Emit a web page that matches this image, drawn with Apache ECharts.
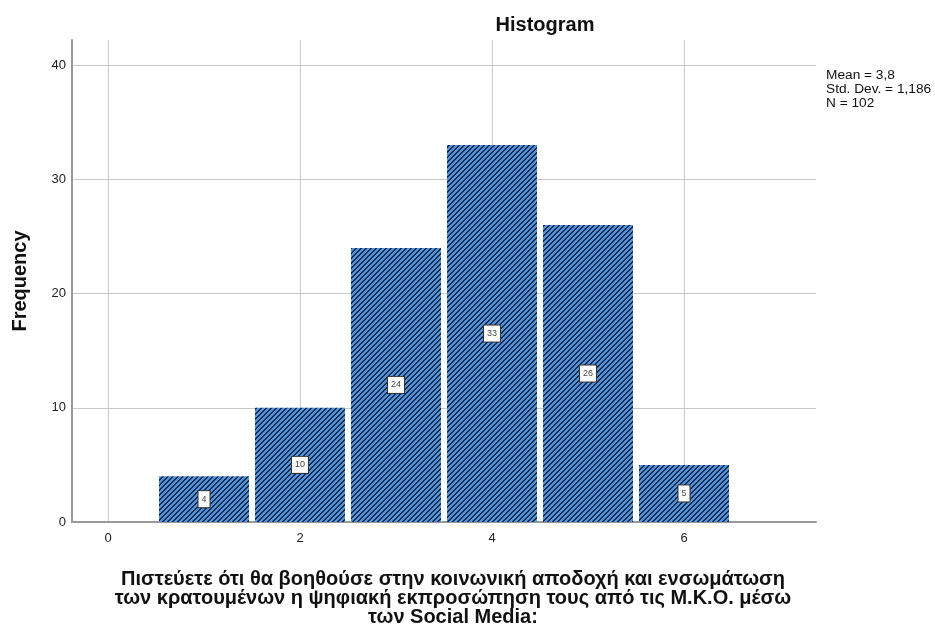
<!DOCTYPE html>
<html>
<head>
<meta charset="utf-8">
<script src="https://cdn.jsdelivr.net/npm/echarts@6/dist/echarts.min.js"></script>
<style>
html, body { margin: 0; padding: 0; background: #fff; }
#main { width: 935px; height: 625px; }
</style>
</head>
<body>
<div id="main"></div>
<script>
var binCenters = [1, 2, 3, 4, 5, 6];
var frequencies = [4, 10, 24, 33, 26, 5];
var xTicks = [0, 2, 4, 6];
var yTicks = [0, 10, 20, 30, 40];
var statsLines = ['Mean = 3,8', 'Std. Dev. = 1,186', 'N = 102'];
var xTitle = 'Πιστεύετε ότι θα βοηθούσε στην κοινωνική αποδοχή και ενσωμάτωση\nτων κρατουμένων η ψηφιακή εκπροσώπηση τους από τις Μ.Κ.Ο. μέσω\nτων Social Media:';

// hatch tile: diagonal dark lines on blue
var tile = document.createElement('canvas');
tile.width = 5; tile.height = 5;
var ctx = tile.getContext('2d');
for (var i = 0; i < 5; i++) {
    for (var j = 0; j < 5; j++) {
        var k = (i + j) % 5;
        ctx.fillStyle = (k === 3 || k === 4) ? '#1b2a45' : '#4f92e0';
        ctx.fillRect(i, j, 1, 1);
    }
}

var dom = document.getElementById('main');
var myChart = echarts.init(dom);
var font = 'Arial, "Liberation Sans", sans-serif';

var option = {
    animation: false,
    textStyle: { fontFamily: font },
    title: [
        {
            text: 'Histogram',
            left: 540, top: 10,
            textAlign: 'center',
            textStyle: { fontSize: 20, fontWeight: 'bold', color: '#111', fontFamily: font }
        },
        {
            text: xTitle,
            left: 448, top: 565,
            textAlign: 'center',
            textStyle: { fontSize: 20, fontWeight: 'bold', color: '#111', lineHeight: 19, fontFamily: font }
        }
    ],
    graphic: [
        {
            type: 'text', left: 826, top: 68,
            style: { text: statsLines.join('\n'), font: '13.7px ' + font, fill: '#111', lineHeight: 14 }
        }
    ],
    grid: { left: 72, right: 119, top: 40, bottom: 103 },
    xAxis: {
        type: 'value',
        min: -0.375, max: 7.375,
        axisLine: { show: true, onZero: false, lineStyle: { color: '#999', width: 2 } },
        axisTick: { show: false, customValues: xTicks },
        axisLabel: { customValues: xTicks, color: '#222', fontSize: 13, margin: 10, fontFamily: font },
        splitLine: { show: true, lineStyle: { color: '#c8c8c8', width: 1 } }
    },
    yAxis: {
        type: 'value',
        min: 0, max: 42.2,
        name: 'Frequency',
        nameLocation: 'middle',
        nameGap: 42,
        nameTextStyle: { fontSize: 20, fontWeight: 'bold', color: '#111', fontFamily: font },
        axisLine: { show: true, onZero: false, lineStyle: { color: '#999', width: 2 } },
        axisTick: { show: false, customValues: yTicks },
        axisLabel: { customValues: yTicks, color: '#222', fontSize: 13, margin: 6, fontFamily: font },
        splitLine: { show: true, lineStyle: { color: '#c8c8c8', width: 1 } }
    },
    series: [{
        type: 'bar',
        barWidth: 90,
        data: binCenters.map(function (c, i) { return [c, frequencies[i]]; }),
        itemStyle: { color: { image: tile, repeat: 'repeat' } },
        label: {
            show: true,
            position: 'inside',
            formatter: function (p) { return p.value[1]; },
            fontSize: 9,
            color: '#444',
            backgroundColor: '#fff',
            borderColor: '#333',
            borderWidth: 1,
            padding: [4, 3, 3, 3]
        }
    }]
};

myChart.setOption(option);
</script>
</body>
</html>
